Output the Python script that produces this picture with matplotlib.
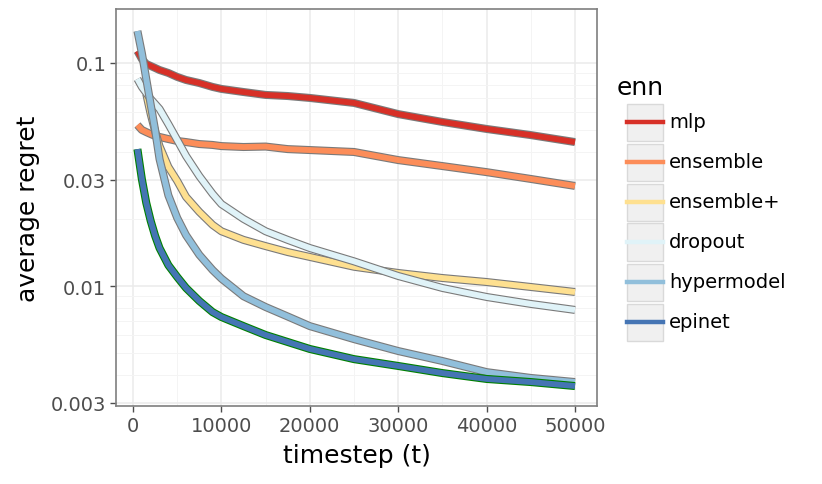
import numpy as np
import matplotlib
matplotlib.use("Agg")
import matplotlib.pyplot as plt
from matplotlib.ticker import FixedLocator, LogLocator, NullFormatter
from matplotlib.patches import Rectangle
from matplotlib.lines import Line2D

# timesteps sampled along each curve
timestep = [500, 1000, 1500, 2000, 2500, 3000, 4000, 5000, 6000, 7500, 9000,
            10000, 12500, 15000, 17500, 20000, 25000, 30000, 35000, 40000,
            45000, 50000]

mlp = [0.1132, 0.1042, 0.0990, 0.0970, 0.0950, 0.0930, 0.0902, 0.0866, 0.0839,
       0.0813, 0.0781, 0.0765, 0.0741, 0.0719, 0.0711, 0.0697, 0.0662, 0.0590,
       0.0544, 0.0506, 0.0475, 0.0442]
ensemble = [0.0527, 0.0501, 0.0490, 0.0480, 0.0471, 0.0466, 0.0456, 0.0447,
            0.0442, 0.0433, 0.0429, 0.0424, 0.0420, 0.0422, 0.0411, 0.0407,
            0.0399, 0.0367, 0.0345, 0.0324, 0.0302, 0.0281]
ensemble_plus = [np.nan, np.nan, 0.0726, 0.0590, 0.0495, 0.0424, 0.0342, 0.0296,
                 0.0251, 0.0215, 0.0188, 0.0176, 0.0161, 0.0151, 0.0142, 0.0135,
                 0.0122, 0.01144, 0.01086, 0.01042, 0.00990, 0.00940]
dropout = [0.0848, 0.0781, 0.0734, 0.0689, 0.0655, 0.0622, 0.0532, 0.0452,
           0.0383, 0.0311, 0.0259, 0.0233, 0.0200, 0.0176, 0.0161, 0.0148,
           0.0129, 0.01109, 0.00980, 0.00893, 0.00831, 0.00781]
hypermodel = [0.1391, 0.1109, 0.0848, 0.0651, 0.0501, 0.0371, 0.0255, 0.0202,
              0.0169, 0.0138, 0.0118, 0.0108, 0.0090, 0.00805, 0.00730, 0.00661,
              0.00578, 0.00511, 0.00461, 0.00411, 0.00387, 0.00371]
epinet = [0.0411, 0.0302, 0.0236, 0.0196, 0.0168, 0.0148, 0.0124, 0.01098,
          0.0098, 0.00857, 0.00764, 0.00726, 0.00661, 0.00603, 0.00561, 0.00522,
          0.00470, 0.00438, 0.00407, 0.00383, 0.00371, 0.00356]

labels = ["mlp", "ensemble", "ensemble+", "dropout", "hypermodel", "epinet"]
series = [mlp, ensemble, ensemble_plus, dropout, hypermodel, epinet]
colors = ["#d73027", "#fc8d59", "#fee090", "#e0f3f8", "#91bfdb", "#4575b4"]
outlines = ["#7a7a7a"] * 5 + ["#008000"]

y_ticks = [0.003, 0.01, 0.03, 0.1]
y_ticklabels = ["0.003", "0.01", "0.03", "0.1"]
x_ticks = [0, 10000, 20000, 30000, 40000, 50000]

W, H = 822, 485
fig = plt.figure(figsize=(W / 100, H / 100), dpi=100)
ax = fig.add_axes([116 / W, 1 - 407 / H, 481 / W, 397 / H])

for vals, col, oc in zip(series, colors, outlines):
    ax.plot(timestep, vals, color=oc, lw=5.8, solid_joinstyle="round",
            solid_capstyle="butt")
    ax.plot(timestep, vals, color=col, lw=4.2, solid_joinstyle="round",
            solid_capstyle="butt")

ax.set_yscale("log")
ax.set_xlim(-1923, 52489)
ax.set_ylim(0.002897, 0.1746)

ax.yaxis.set_major_locator(FixedLocator(y_ticks))
ax.set_yticklabels(y_ticklabels)
ax.yaxis.set_minor_locator(LogLocator(subs=np.arange(2, 10)))
ax.yaxis.set_minor_formatter(NullFormatter())
ax.xaxis.set_major_locator(FixedLocator(x_ticks))
ax.xaxis.set_minor_locator(FixedLocator([5000, 15000, 25000, 35000, 45000]))

ax.grid(True, which="major", color="#ebebeb", lw=1.1)
ax.grid(True, which="minor", color="#f4f4f4", lw=0.7)
ax.set_axisbelow(True)

ax.tick_params(which="major", length=4, width=1, color="#4d4d4d",
               labelsize=14, labelcolor="#4d4d4d", pad=3)
ax.tick_params(which="minor", length=0)
for s in ax.spines.values():
    s.set_color("#7f7f7f")
    s.set_linewidth(1.2)

ax.set_xlabel("timestep (t)", fontsize=18, labelpad=6)
ax.set_ylabel("average regret", fontsize=18, labelpad=8)

# legend drawn by hand in figure pixel coordinates
fig.text(617 / W, 1 - 88 / H, "enn", fontsize=18, va="center", ha="left")
for i, (lab, col) in enumerate(zip(labels, colors)):
    cy = 123 + i * 40
    fig.patches.append(Rectangle((627 / W, 1 - (cy + 18.5) / H), 36 / W, 37 / H,
                                 transform=fig.transFigure, facecolor="#f0f0f0",
                                 edgecolor="#d9d9d9", lw=1))
    fig.lines.append(Line2D([627 / W, 663 / W], [1 - cy / H, 1 - cy / H],
                            transform=fig.transFigure, color=col, lw=3.2))
    fig.text(669 / W, 1 - cy / H, lab, fontsize=14, va="center", ha="left")

fig.savefig("out.png", dpi=100)
